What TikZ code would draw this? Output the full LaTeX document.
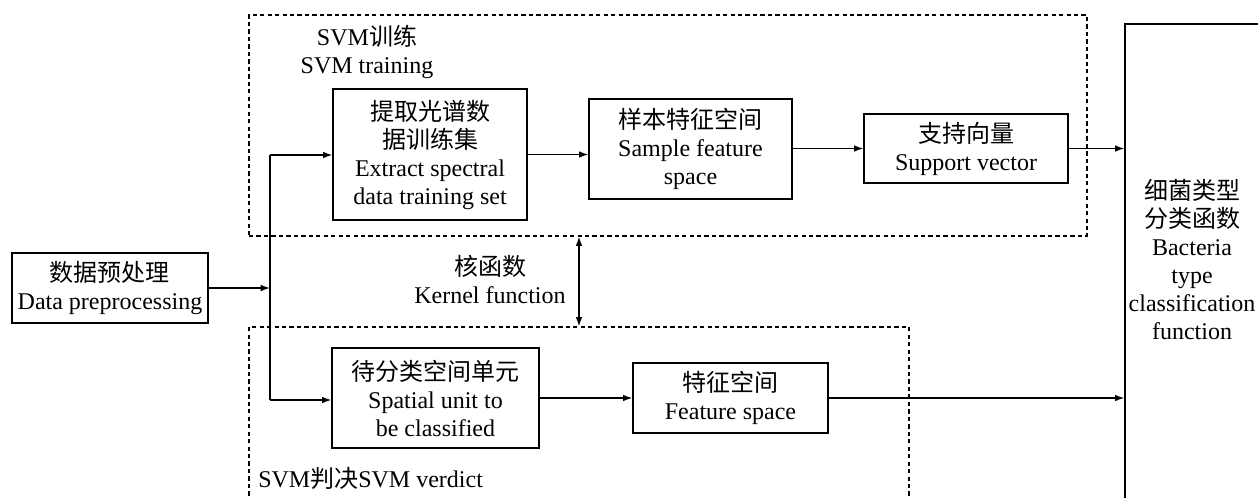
\documentclass[tikz,border=0pt]{standalone}
\usepackage{fontspec}
\setmainfont{Liberation Serif}
\newfontfamily\cjkfont{Noto Sans CJK SC}
\newcommand\zhs[1]{{\cjkfont #1}}
\usetikzlibrary{arrows.meta}
\begin{document}
\begin{tikzpicture}[x=0.75pt, y=-0.75pt,
  every node/.style={font=\fontsize{18}{21}\selectfont, inner sep=0pt, align=center},
  blk/.style={draw, line width=1pt},
  grp/.style={draw, line width=0.9pt, dash pattern=on 3.2pt off 2.4pt},
  arr/.style={line width=1pt, -{Latex[length=7pt,width=5pt]}},
  dbl/.style={line width=1pt, {Latex[length=7pt,width=5pt]}-{Latex[length=7pt,width=5pt]}},
  ln/.style={line width=1pt}]
\useasboundingbox (0,0) rectangle (1258,497);

% dashed group frames
\node[grp, minimum width=628.5pt, minimum height=165.75pt] (train) at (668,125.5) {};
\node[grp, minimum width=495pt, minimum height=174.75pt] (verdict) at (579,443.5) {};

% group captions
\node (trainlbl) at (367,51.5) {SVM\zhs{训练}\\SVM training};
\node[anchor=west] (verdictlbl) at (258,478) {SVM\zhs{判决}SVM verdict};
\node (kernellbl) at (490,279) {\zhs{核函数}\\Kernel function};

% process blocks
\node[blk, minimum width=147pt, minimum height=52.5pt] (pre) at (110,288)
  {\zhs{数据预处理}\\Data preprocessing};
\node[blk, minimum width=145.5pt, minimum height=98.25pt] (ext) at (430,154.5)
  {\zhs{提取光谱数}\\\zhs{据训练集}\\Extract spectral\\data training set};
\node[blk, minimum width=152.25pt, minimum height=75pt] (sample) at (690.5,149)
  {\zhs{样本特征空间}\\Sample feature\\space};
\node[blk, minimum width=153pt, minimum height=51.75pt] (support) at (966,148.5)
  {\zhs{支持向量}\\Support vector};
\node[blk, minimum width=155.25pt, minimum height=75pt] (unit) at (435.5,398)
  {\zhs{待分类空间单元}\\Spatial unit to\\be classified};
\node[blk, minimum width=146.25pt, minimum height=52.5pt] (feat) at (730.5,398)
  {\zhs{特征空间}\\Feature space};

% classification function frame (runs past the page edge)
\node[blk, minimum width=210pt, minimum height=450pt] (cls) at (1265,324) {};
\node (clstext) at (1192,259.5)
  {\zhs{细菌类型}\\\zhs{分类函数}\\Bacteria\\type\\classification\\function};

% trunk line splitting the preprocessed data
\coordinate (trunk) at (270,288);
\coordinate (jt) at (270,155);
\coordinate (jb) at (270,400);
\coordinate (kx) at (579,0);

\draw[arr] (pre.east |- trunk) -- (trunk);
\draw[ln] (jt) -- (jb);
\draw[arr] (jt) -- (jt -| ext.west);
\draw[arr] (jb) -- (jb -| unit.west);

\draw[arr] (ext.east) -- (ext.east -| sample.west);
\draw[arr] (support.west -| sample.east) -- (support.west);
\draw[arr] (support.east) -- (support.east -| cls.west);

\draw[arr] (unit.east) -- (unit.east -| feat.west);
\draw[arr] (feat.east) -- (feat.east -| cls.west);

\draw[dbl] (train.south -| kx) -- (verdict.north -| kx);
\end{tikzpicture}
\end{document}
